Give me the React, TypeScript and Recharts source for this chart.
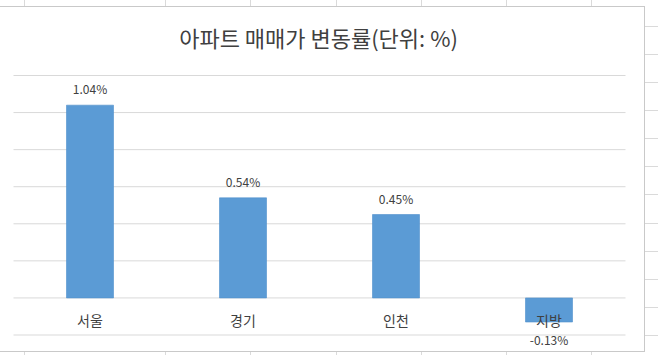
import { BarChart, Bar, XAxis, YAxis, CartesianGrid, LabelList } from "recharts";

const regions = ["서울", "경기", "인천", "지방"];
const changeRates = [1.04, 0.54, 0.45, -0.13];
const yTicks = [-0.2, 0, 0.2, 0.4, 0.6, 0.8, 1.0, 1.2];

const data = regions.map((region, i) => ({ region, rate: changeRates[i] }));

// spreadsheet cell lines peeking out around the chart object
const sheetColumnLines = [24, 165, 250, 336, 421, 506, 591];
const sheetRowLines = [26, 54, 82, 110, 138, 166, 194, 223, 251, 279, 307, 335];

const FONT = '"Noto Sans CJK KR", "Noto Sans", sans-serif';
const TEXT = "#404040";

// Excel puts the category labels just under the zero line, not at the plot bottom
function RegionLabel(props: any) {
  const { x, y, width, height, value, index } = props;
  const zero = changeRates[index] < 0 ? Math.min(y, y + height) : Math.max(y, y + height);
  return (
    <text x={x + width / 2} y={zero + 23} dy="0.35em" textAnchor="middle" fill={TEXT} fontSize={14} fontFamily={FONT}>
      {value}
    </text>
  );
}

function RateLabel(props: any) {
  const { x, y, width, height, value } = props;
  const top = Math.min(y, y + height);
  const bottom = Math.max(y, y + height);
  const cy = value < 0 ? bottom + 19 : top - 15;
  return (
    <text x={x + width / 2} y={cy} dy="0.35em" textAnchor="middle" fill={TEXT} fontSize={12} fontFamily={FONT}>
      {value.toFixed(2)}%
    </text>
  );
}

export default function App() {
  return (
    <div style={{ position: "absolute", left: 0, top: 0, width: 658, height: 355, background: "#fff", overflow: "hidden" }}>
      {sheetColumnLines.map((x) => (
        <div key={"t" + x} style={{ position: "absolute", left: x, top: 0, width: 1, height: 355, background: "#dadada" }} />
      ))}
      {sheetRowLines.map((y) => (
        <div key={"r" + y} style={{ position: "absolute", left: 640, top: y, width: 18, height: 1, background: "#dadada" }} />
      ))}
      <div
        style={{
          position: "absolute",
          left: -2,
          top: 6,
          width: 647,
          height: 346,
          boxSizing: "border-box",
          border: "1px solid #c9c9c9",
          background: "#fff",
        }}
      />
      <div
        style={{
          position: "absolute",
          left: 0,
          top: 22,
          width: 637,
          textAlign: "center",
          fontFamily: FONT,
          fontSize: 22,
          lineHeight: "30px",
          color: TEXT,
        }}
      >
        아파트 매매가 변동률(단위: %)
      </div>
      <div style={{ position: "absolute", left: 0, top: 0 }}>
        <BarChart
          width={658}
          height={355}
          data={data}
          margin={{ top: 75.5, right: 32.5, bottom: 20, left: 13.5 }}
        >
          <CartesianGrid horizontal vertical={false} stroke="#d9d9d9" />
          <XAxis dataKey="region" height={0} axisLine={false} tickLine={false} tick={false} />
          <YAxis hide domain={[-0.2, 1.2]} ticks={yTicks} />
          <Bar dataKey="rate" fill="#5b9bd5" stroke="#4f8ecb" strokeWidth={0.6} barSize={47} isAnimationActive={false}>
            <LabelList dataKey="region" content={<RegionLabel />} />
            <LabelList dataKey="rate" content={<RateLabel />} />
          </Bar>
        </BarChart>
      </div>
    </div>
  );
}
